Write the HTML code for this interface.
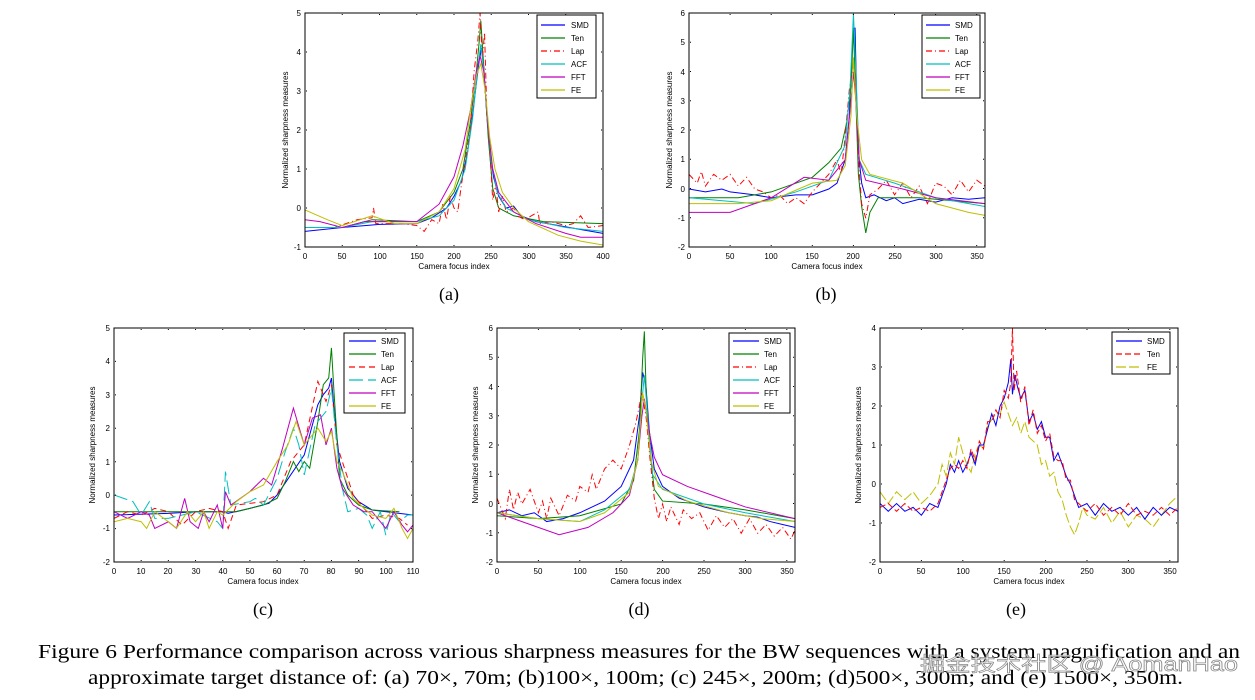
<!DOCTYPE html>
<html><head><meta charset="utf-8">
<style>
body{margin:0;background:#fff;width:1255px;height:700px;overflow:hidden;position:relative}
svg{position:absolute;left:0;top:0}
.t{font:8px "Liberation Sans",sans-serif;fill:#000}
.cap{font:19px "Liberation Serif",serif;fill:#000}
.d path{vector-effect:non-scaling-stroke;fill:none;stroke-width:1}
.S{stroke:#0000ff}.T{stroke:#008000}.L{stroke:#ff0000;stroke-dasharray:6 3 1 3}.A{stroke:#00bfbf}.F{stroke:#bf00bf}.E{stroke:#bfbf00}
.ax{fill:none;stroke:#000;stroke-width:1}
.lg line{stroke-width:1.2}
</style></head><body>
<svg width="1255" height="700" xmlns="http://www.w3.org/2000/svg">
<defs>
<clipPath id="ca"><rect x="305" y="13" width="298" height="234"/></clipPath>
<clipPath id="cb"><rect x="689" y="13" width="296" height="234"/></clipPath>
<clipPath id="cc"><rect x="114" y="328" width="299" height="234"/></clipPath>
<clipPath id="cd"><rect x="497" y="328" width="298" height="234"/></clipPath>
<clipPath id="ce"><rect x="880" y="328" width="298" height="234"/></clipPath>
</defs>

<!-- (a) -->
<g clip-path="url(#ca)"><g class="d" transform="translate(305,208) scale(0.745,-39)">
<path class="S" d="M0,-0.6 L50,-0.5 100,-0.42 150,-0.4 170,-0.25 190,0 200,0.3 210,0.7 218,1.4 225,2.4 230,3.2 234,3.8 237,4.1 240,3.6 244,2.4 248,1.5 253,0.8 260,0.3 270,0 280,0.05 290,-0.2 310,-0.35 340,-0.45 370,-0.55 400,-0.65"/>
<path class="T" d="M0,-0.5 L50,-0.5 90,-0.3 150,-0.35 180,-0.1 200,0.4 212,1 222,2.2 230,3.5 234,4.3 236,4.8 238,4.2 242,3 246,1.8 252,0.5 260,0 280,-0.2 320,-0.35 400,-0.4"/>
<path class="L" d="M0,-0.5 L40,-0.5 70,-0.3 90,-0.25 92,0 95,-0.4 130,-0.4 150,-0.45 160,-0.6 170,-0.3 180,-0.4 185,0.1 190,-0.3 195,0.3 200,0 205,-0.1 210,0.6 215,1.2 222,2 227,3.5 232,4.3 235,5 238,3.8 241,4.5 244,2.5 248,1.5 252,0.2 256,0.6 260,-0.1 265,0.3 270,-0.1 280,0 285,-0.2 295,-0.3 313,-0.1 315,-0.4 330,-0.35 350,-0.45 360,-0.4 370,-0.2 380,-0.5 400,-0.45"/>
<path class="A" d="M0,-0.5 L50,-0.5 90,-0.35 150,-0.35 180,-0.2 200,0.2 215,1 225,2.3 232,3.6 236,4.2 240,3.5 245,2.2 250,1.2 258,0.4 270,0 300,-0.3 350,-0.5 400,-0.6"/>
<path class="F" d="M0,-0.3 L20,-0.35 50,-0.5 80,-0.35 150,-0.35 180,0.1 200,0.8 212,1.6 222,2.5 230,3.5 235,3.9 240,3.5 246,2 252,1 260,0.4 280,-0.1 310,-0.4 350,-0.65 370,-0.75 400,-0.75"/>
<path class="E" d="M0,-0.05 L30,-0.3 50,-0.45 90,-0.2 120,-0.4 150,-0.4 180,-0.1 200,0.5 215,1.5 222,2.5 230,3.4 236,3.7 242,3 248,1.8 255,1 265,0.4 280,0 300,-0.35 340,-0.7 370,-0.85 400,-0.95"/>
</g></g>
<rect class="ax" x="305" y="13" width="298" height="234"/>
<line class="ax" x1="304.5" y1="245.5" x2="604" y2="245.5" stroke-width="3" stroke-dasharray="1 36.25"/>
<line class="ax" x1="304.5" y1="14.5" x2="604" y2="14.5" stroke-width="3" stroke-dasharray="1 36.25"/>
<line class="ax" x1="306.5" y1="12.5" x2="306.5" y2="248" stroke-width="3" stroke-dasharray="1 38"/>
<line class="ax" x1="601.5" y1="12.5" x2="601.5" y2="248" stroke-width="3" stroke-dasharray="1 38"/>

<!-- (b) -->
<g clip-path="url(#cb)"><g class="d" transform="translate(689,189) scale(0.8222,-29.25)">
<path class="S" d="M0,0 L20,-0.1 40,0 50,-0.1 80,-0.2 100,-0.3 130,-0.2 150,-0.2 170,0 180,0.2 190,1 195,2.5 198,4.5 200,5.5 202,5.5 204,3 207,1 210,0.2 215,-0.3 225,-0.2 240,-0.4 250,-0.3 260,-0.5 280,-0.35 300,-0.45 320,-0.3 340,-0.35 360,-0.3"/>
<path class="T" d="M0,-0.3 L60,-0.3 100,-0.1 150,0.4 170,0.9 185,1.4 192,2.3 197,3.5 200,5.5 203,3 206,0.5 210,-0.6 215,-1.5 220,-0.8 230,-0.3 280,-0.3 360,-0.5"/>
<path class="L" d="M0,0.5 L10,0.2 15,0.6 20,0.1 30,0.5 40,0.3 50,0.5 60,0.1 70,0.4 80,0 90,-0.1 100,-0.3 110,-0.2 120,-0.5 130,-0.3 140,-0.5 150,-0.1 160,0.2 170,0.5 180,1 185,0.5 190,1.8 195,3.4 200,4.3 203,3.5 206,1 210,-0.5 215,-1 220,-0.2 230,0 240,0.3 250,-0.2 260,0.2 270,-0.3 280,0.1 290,-0.5 300,0.2 310,0.1 320,-0.2 330,0.3 340,-0.1 350,0.3 360,0.1"/>
<path class="A" d="M0,-0.3 L80,-0.5 130,-0.1 170,0.3 190,1.5 196,3.5 200,6 203,4 207,1 215,0.5 250,0.2 300,-0.3 360,-0.6"/>
<path class="F" d="M0,-0.8 L50,-0.8 100,-0.3 140,0.4 170,0.3 190,1 197,3 200,4 203,3 207,1 215,0.3 260,0 300,-0.3 360,-0.5"/>
<path class="E" d="M0,-0.5 L60,-0.5 100,-0.4 150,0.2 180,0.3 190,0.8 197,2.5 200,4.5 204,2.5 210,1 220,0.5 260,0.2 300,-0.5 340,-0.8 360,-0.9"/>
</g></g>
<rect class="ax" x="689" y="13" width="296" height="234"/>
<line class="ax" x1="688.5" y1="245.5" x2="986" y2="245.5" stroke-width="3" stroke-dasharray="1 40.1"/>
<line class="ax" x1="688.5" y1="14.5" x2="986" y2="14.5" stroke-width="3" stroke-dasharray="1 40.1"/>
<line class="ax" x1="690.5" y1="12.5" x2="690.5" y2="248" stroke-width="3" stroke-dasharray="1 28.25"/>
<line class="ax" x1="983.5" y1="12.5" x2="983.5" y2="248" stroke-width="3" stroke-dasharray="1 28.25"/>

<!-- (c) -->
<g clip-path="url(#cc)"><g class="d" transform="translate(114,495) scale(2.718,-33.43)">
<path class="S" d="M0,-0.6 L20,-0.55 30,-0.5 40,-0.5 42,-0.55 50,-0.4 57,-0.25 60,0 65,0.6 70,1.2 75,2.7 77,3 79,3.2 80,3.5 81,2.5 83,1 86,0.2 90,-0.2 95,-0.45 105,-0.55 110,-0.6"/>
<path class="T" d="M0,-0.5 L40,-0.5 45,-0.5 55,-0.3 60,-0.1 63,0.4 66,1 68,0.7 70,1 72,0.8 75,2.2 77,3.3 79,3.5 80,4.4 81,3 83,0.5 86,0 90,-0.3 95,-0.45 105,-0.5"/>
<path class="L" style="stroke-dasharray:6 4" d="M0,-0.7 L5,-0.5 10,-0.6 15,-0.4 20,-0.5 25,-0.9 30,-0.5 35,-0.4 40,-0.5 42,-1 45,-0.3 55,-0.2 60,0 65,1 70,1.5 75,3.4 78,2.8 80,3.3 82,1.5 84,1 88,0 95,-0.7 100,-0.6 105,-0.7 108,-0.9"/>
<path class="A" style="stroke-dasharray:14 5" d="M0,0 L7,-0.2 10,-0.6 13,-0.2 15,-0.7 20,-0.7 30,-0.5 38,-0.8 40,-1 41,0.7 43,-0.3 50,-0.2 52,-0.1 55,-0.3 60,0.5 63,1.3 66,2 68,1.5 70,0.6 74,2.1 78,2.5 80,3.2 82,1.5 84,0.2 86,-0.5 90,-0.4 93,-0.6 95,-1 98,-0.5 100,-1.2 102,-0.5 105,-0.8 108,-0.6 110,-0.6"/>
<path class="F" d="M0,-0.5 L5,-0.7 10,-0.5 13,-0.6 15,-1 20,-0.8 23,-1 26,-0.1 28,-0.8 31,-1 33,-0.5 35,-0.8 38,-0.3 40,-1 41,0.1 43,-0.3 50,0.1 55,0.5 58,0.3 62,1.4 66,2.6 70,1.5 73,2.3 76,2.4 78,1.5 80,2 82,0.8 84,0.2 88,-0.3 92,-0.5 95,-0.5 100,-1 103,-0.5 106,-0.9 108,-1.1 110,-0.9"/>
<path class="E" d="M0,-0.8 L5,-0.7 10,-0.8 12,-1 15,-0.5 20,-0.8 23,-1 27,-0.5 30,-0.8 33,-0.5 35,-1 38,-0.5 40,-0.6 45,-0.2 50,0.1 55,0.3 60,1 64,1.5 67,2.2 70,1.5 75,2 78,1.6 80,1.9 82,1 84,0.7 88,-0.1 92,-0.4 95,-0.6 100,-0.7 103,-0.4 106,-1 108,-1.3 110,-1"/>
</g></g>
<rect class="ax" x="114" y="328" width="299" height="234"/>
<line class="ax" x1="113.5" y1="560.5" x2="414" y2="560.5" stroke-width="3" stroke-dasharray="1 26.18"/>
<line class="ax" x1="113.5" y1="329.5" x2="414" y2="329.5" stroke-width="3" stroke-dasharray="1 26.18"/>
<line class="ax" x1="115.5" y1="327.5" x2="115.5" y2="563" stroke-width="3" stroke-dasharray="1 32.43"/>
<line class="ax" x1="411.5" y1="327.5" x2="411.5" y2="563" stroke-width="3" stroke-dasharray="1 32.43"/>

<!-- (d) -->
<g clip-path="url(#cd)"><g class="d" transform="translate(497,504) scale(0.8278,-29.25)">
<path class="S" d="M0,-0.3 L15,-0.2 30,-0.4 45,-0.3 60,-0.6 80,-0.5 100,-0.3 115,-0.1 130,0.1 150,0.6 165,1.5 172,3 176,4.5 180,4 184,2.5 190,1.2 200,0.6 220,0.2 250,-0.1 265,-0.2 280,-0.3 300,-0.4 315,-0.45 330,-0.6 345,-0.7 360,-0.8"/>
<path class="T" d="M0,-0.4 L50,-0.5 100,-0.4 150,0 165,0.8 172,2.5 176,5 178,5.9 180,4 184,2 190,0.5 200,0.1 250,0 300,-0.2 360,-0.5"/>
<path class="L" d="M0,0.2 L10,-0.5 15,0.5 20,-0.2 25,0.4 30,0 40,0.5 50,-0.3 55,0.1 60,-0.5 65,0.2 75,-0.4 85,0.3 95,0.1 100,0.6 110,0.4 115,1 120,0.5 130,1.2 140,1.5 150,1.2 160,2 168,2.8 175,3.8 180,3 185,1.5 190,0.2 195,-0.5 200,0 205,-0.6 210,-0.1 220,-0.7 225,-0.2 235,-0.5 245,-0.3 255,-0.9 265,-0.4 275,-0.8 285,-0.5 295,-1 305,-0.5 315,-1 325,-0.7 335,-1.1 345,-0.8 355,-1.2 360,-0.9"/>
<path class="A" d="M0,-0.3 L50,-0.5 100,-0.6 130,-0.2 160,0.5 170,1.5 175,3.5 178,4.4 182,3 188,1 200,0.5 250,0 300,-0.3 360,-0.6"/>
<path class="F" d="M0,-0.3 L40,-0.7 75,-1.05 110,-0.8 140,-0.3 160,0.3 170,1.5 175,3 178,3.6 183,2.6 190,1.6 200,1 230,0.6 260,0.3 300,-0.1 360,-0.5"/>
<path class="E" d="M0,-0.3 L50,-0.5 100,-0.6 130,-0.3 160,0.4 170,1.5 176,3.8 180,3.2 186,1.5 195,0.6 230,0.1 280,-0.3 320,-0.5 360,-0.6"/>
</g></g>
<rect class="ax" x="497" y="328" width="298" height="234"/>
<line class="ax" x1="496.5" y1="560.5" x2="796" y2="560.5" stroke-width="3" stroke-dasharray="1 40.4"/>
<line class="ax" x1="496.5" y1="329.5" x2="796" y2="329.5" stroke-width="3" stroke-dasharray="1 40.4"/>
<line class="ax" x1="498.5" y1="327.5" x2="498.5" y2="563" stroke-width="3" stroke-dasharray="1 28.25"/>
<line class="ax" x1="793.5" y1="327.5" x2="793.5" y2="563" stroke-width="3" stroke-dasharray="1 28.25"/>

<!-- (e) -->
<g clip-path="url(#ce)"><g class="d" transform="translate(880,484) scale(0.8278,-39)">
<path class="E" style="stroke-dasharray:10 3" d="M0,-0.2 L10,-0.5 20,-0.2 30,-0.4 40,-0.2 50,-0.5 60,-0.3 70,0 75,0.5 80,0.2 85,0.8 90,0.5 95,1.2 100,0.8 105,0.5 110,0.3 115,0.8 120,1 125,0.9 130,1.5 140,1.8 145,1.8 150,2.1 155,1.8 160,1.5 165,1.7 170,1.3 175,1.6 180,1.2 190,1 195,0.5 200,0.6 205,0.2 210,0.3 215,-0.2 220,-0.4 225,-0.8 230,-1.1 235,-1.3 240,-1 245,-0.6 250,-0.8 260,-0.9 270,-0.6 280,-1 290,-0.7 300,-1.1 310,-0.8 320,-0.9 330,-1.1 340,-0.8 350,-0.5 360,-0.3"/>
<path class="S" d="M0,-0.5 L10,-0.7 20,-0.5 30,-0.7 40,-0.6 50,-0.8 60,-0.5 70,-0.6 75,-0.3 80,0 85,0.5 90,0.3 95,0.6 100,0.3 105,0.5 110,0.8 115,0.5 120,1 125,1 130,1.4 135,1.8 140,1.5 145,2 150,2.2 155,2.6 158,3.2 160,2.3 163,2.8 166,2.5 170,2.2 175,2.4 180,1.6 185,1.8 190,1.4 195,1.6 200,1.2 205,1.2 210,0.6 215,0.8 220,0.5 225,0.2 230,0 235,-0.3 240,-0.6 250,-0.5 260,-0.8 270,-0.5 280,-0.7 290,-0.6 300,-0.8 310,-0.6 320,-0.9 330,-0.6 340,-0.8 350,-0.6 360,-0.7"/>
<path class="L" style="stroke-dasharray:6 3" d="M0,-0.6 L10,-0.5 20,-0.7 30,-0.5 40,-0.7 50,-0.6 60,-0.7 70,-0.5 75,-0.2 80,0.1 85,0.4 90,0.5 95,0.4 100,0.6 105,0.4 110,0.9 115,0.6 120,1.1 125,0.9 130,1.6 135,1.6 140,1.9 145,1.7 150,2.4 155,2.2 158,2.6 160,4 162,2.4 165,2.9 170,2.1 175,2.5 180,1.5 185,1.9 190,1.3 195,1.5 200,1.1 205,1.3 210,0.7 215,0.6 220,0.6 225,0.1 230,0.1 235,-0.4 240,-0.5 250,-0.7 260,-0.5 270,-0.8 280,-0.6 290,-0.8 300,-0.5 310,-0.8 320,-0.7 330,-0.8 340,-0.6 350,-0.8 360,-0.6"/>
</g></g>
<rect class="ax" x="880" y="328" width="298" height="234"/>
<line class="ax" x1="879.5" y1="560.5" x2="1179" y2="560.5" stroke-width="3" stroke-dasharray="1 40.4"/>
<line class="ax" x1="879.5" y1="329.5" x2="1179" y2="329.5" stroke-width="3" stroke-dasharray="1 40.4"/>
<line class="ax" x1="881.5" y1="327.5" x2="881.5" y2="563" stroke-width="3" stroke-dasharray="1 38"/>
<line class="ax" x1="1176.5" y1="327.5" x2="1176.5" y2="563" stroke-width="3" stroke-dasharray="1 38"/>

<!-- legends -->
<g class="lg">
<rect x="537" y="15" width="59" height="83" fill="#fff" stroke="#000"/>
<line x1="541" y1="25" x2="565" y2="25" stroke="#0000ff"/><line x1="541" y1="38" x2="565" y2="38" stroke="#008000"/><line x1="541" y1="51" x2="565" y2="51" stroke="#ff0000" stroke-dasharray="6 3 1 3"/><line x1="541" y1="64" x2="565" y2="64" stroke="#00bfbf"/><line x1="541" y1="77" x2="565" y2="77" stroke="#bf00bf"/><line x1="541" y1="90" x2="565" y2="90" stroke="#bfbf00"/>
<rect x="922" y="15" width="58" height="83" fill="#fff" stroke="#000"/>
<line x1="926" y1="25" x2="950" y2="25" stroke="#0000ff"/><line x1="926" y1="38" x2="950" y2="38" stroke="#008000"/><line x1="926" y1="51" x2="950" y2="51" stroke="#ff0000" stroke-dasharray="6 3 1 3"/><line x1="926" y1="64" x2="950" y2="64" stroke="#00bfbf"/><line x1="926" y1="77" x2="950" y2="77" stroke="#bf00bf"/><line x1="926" y1="90" x2="950" y2="90" stroke="#bfbf00"/>
<rect x="344" y="333" width="61" height="80" fill="#fff" stroke="#000"/>
<line x1="349" y1="341" x2="376" y2="341" stroke="#0000ff"/><line x1="349" y1="354" x2="376" y2="354" stroke="#008000"/><line x1="349" y1="367" x2="376" y2="367" stroke="#ff0000" stroke-dasharray="6 4"/><line x1="349" y1="380" x2="376" y2="380" stroke="#00bfbf" stroke-dasharray="14 5"/><line x1="349" y1="393" x2="376" y2="393" stroke="#bf00bf"/><line x1="349" y1="406" x2="376" y2="406" stroke="#bfbf00"/>
<rect x="729" y="333" width="61" height="80" fill="#fff" stroke="#000"/>
<line x1="733" y1="341" x2="759" y2="341" stroke="#0000ff"/><line x1="733" y1="354" x2="759" y2="354" stroke="#008000"/><line x1="733" y1="367" x2="759" y2="367" stroke="#ff0000" stroke-dasharray="6 3 1 3"/><line x1="733" y1="380" x2="759" y2="380" stroke="#00bfbf"/><line x1="733" y1="393" x2="759" y2="393" stroke="#bf00bf"/><line x1="733" y1="406" x2="759" y2="406" stroke="#bfbf00"/>
<rect x="1112" y="332" width="58" height="42" fill="#fff" stroke="#000"/>
<line x1="1116" y1="341" x2="1142" y2="341" stroke="#0000ff"/><line x1="1116" y1="354" x2="1142" y2="354" stroke="#ff0000" stroke-dasharray="6 3"/><line x1="1116" y1="367" x2="1142" y2="367" stroke="#bfbf00" stroke-dasharray="10 3"/>
</g>

<g class="t" text-anchor="middle">
<text x="305" y="259">0</text><text x="342" y="259">50</text><text x="380" y="259">100</text><text x="417" y="259">150</text><text x="454" y="259">200</text><text x="491" y="259">250</text><text x="529" y="259">300</text><text x="566" y="259">350</text><text x="603" y="259">400</text>
<text x="454" y="269">Camera focus index</text>
<text x="689" y="259">0</text><text x="730" y="259">50</text><text x="771" y="259">100</text><text x="812" y="259">150</text><text x="853" y="259">200</text><text x="895" y="259">250</text><text x="936" y="259">300</text><text x="977" y="259">350</text>
<text x="827" y="269">Camera focus index</text>
<text x="114" y="574">0</text><text x="141" y="574">10</text><text x="168" y="574">20</text><text x="196" y="574">30</text><text x="223" y="574">40</text><text x="250" y="574">50</text><text x="277" y="574">60</text><text x="304" y="574">70</text><text x="331" y="574">80</text><text x="359" y="574">90</text><text x="386" y="574">100</text><text x="413" y="574">110</text>
<text x="263" y="584">Camera focus index</text>
<text x="497" y="574">0</text><text x="538" y="574">50</text><text x="580" y="574">100</text><text x="621" y="574">150</text><text x="663" y="574">200</text><text x="704" y="574">250</text><text x="745" y="574">300</text><text x="787" y="574">350</text>
<text x="646" y="584">Camera focus index</text>
<text x="880" y="574">0</text><text x="921" y="574">50</text><text x="963" y="574">100</text><text x="1004" y="574">150</text><text x="1046" y="574">200</text><text x="1087" y="574">250</text><text x="1128" y="574">300</text><text x="1170" y="574">350</text>
<text x="1029" y="584">Camera focus index</text>
</g>
<g class="t" text-anchor="end">
<text x="301" y="16">5</text><text x="301" y="55">4</text><text x="301" y="94">3</text><text x="301" y="133">2</text><text x="301" y="172">1</text><text x="301" y="211">0</text><text x="301" y="250">-1</text>
<text x="685" y="16">6</text><text x="685" y="45">5</text><text x="685" y="75">4</text><text x="685" y="104">3</text><text x="685" y="133">2</text><text x="685" y="162">1</text><text x="685" y="192">0</text><text x="685" y="221">-1</text><text x="685" y="250">-2</text>
<text x="110" y="331">5</text><text x="110" y="364">4</text><text x="110" y="398">3</text><text x="110" y="431">2</text><text x="110" y="465">1</text><text x="110" y="498">0</text><text x="110" y="531">-1</text><text x="110" y="565">-2</text>
<text x="493" y="331">6</text><text x="493" y="360">5</text><text x="493" y="390">4</text><text x="493" y="419">3</text><text x="493" y="448">2</text><text x="493" y="477">1</text><text x="493" y="507">0</text><text x="493" y="536">-1</text><text x="493" y="565">-2</text>
<text x="876" y="331">4</text><text x="876" y="370">3</text><text x="876" y="409">2</text><text x="876" y="448">1</text><text x="876" y="487">0</text><text x="876" y="526">-1</text><text x="876" y="565">-2</text>
</g>
<g class="t" text-anchor="middle">
<text transform="translate(288,130) rotate(-90)">Normalized sharpness measures</text>
<text transform="translate(672,130) rotate(-90)">Normalized sharpness measures</text>
<text transform="translate(95,445) rotate(-90)">Normalized sharpness measures</text>
<text transform="translate(478,445) rotate(-90)">Normalized sharpness measures</text>
<text transform="translate(861,445) rotate(-90)">Normalized sharpness measures</text>
</g>
<g class="t">
<text x="571" y="28">SMD</text><text x="571" y="41">Ten</text><text x="571" y="54">Lap</text><text x="571" y="67">ACF</text><text x="571" y="80">FFT</text><text x="571" y="93">FE</text>
<text x="955" y="28">SMD</text><text x="955" y="41">Ten</text><text x="955" y="54">Lap</text><text x="955" y="67">ACF</text><text x="955" y="80">FFT</text><text x="955" y="93">FE</text>
<text x="381" y="344">SMD</text><text x="381" y="357">Ten</text><text x="381" y="370">Lap</text><text x="381" y="383">ACF</text><text x="381" y="396">FFT</text><text x="381" y="409">FE</text>
<text x="764" y="344">SMD</text><text x="764" y="357">Ten</text><text x="764" y="370">Lap</text><text x="764" y="383">ACF</text><text x="764" y="396">FFT</text><text x="764" y="409">FE</text>
<text x="1147" y="344">SMD</text><text x="1147" y="357">Ten</text><text x="1147" y="370">FE</text>
</g>
<g class="cap" text-anchor="middle" style="font-size:18px">
<text x="449" y="300">(a)</text><text x="826" y="300">(b)</text>
<text x="263" y="615">(c)</text><text x="639" y="615">(d)</text><text x="1016" y="615">(e)</text>
</g>
<g class="cap" style="font-size:20px">
<text x="38" y="658" textLength="1202" lengthAdjust="spacingAndGlyphs">Figure 6 Performance comparison across various sharpness measures for the BW sequences with a system magnification and an</text>
<text x="88" y="684" textLength="1095" lengthAdjust="spacingAndGlyphs">approximate target distance of: (a) 70×, 70m; (b)100×, 100m; (c) 245×, 200m; (d)500×, 300m; and (e) 1500×, 350m.</text>
</g>
<text x="920" y="671" textLength="318" lengthAdjust="spacingAndGlyphs" style="font:20px 'Liberation Sans','Noto Sans CJK SC',sans-serif;fill:#ffffff;fill-opacity:0.7;stroke:#888;stroke-width:0.7">掘金技术社区 @ AomanHao</text>
</svg>
</body></html>
